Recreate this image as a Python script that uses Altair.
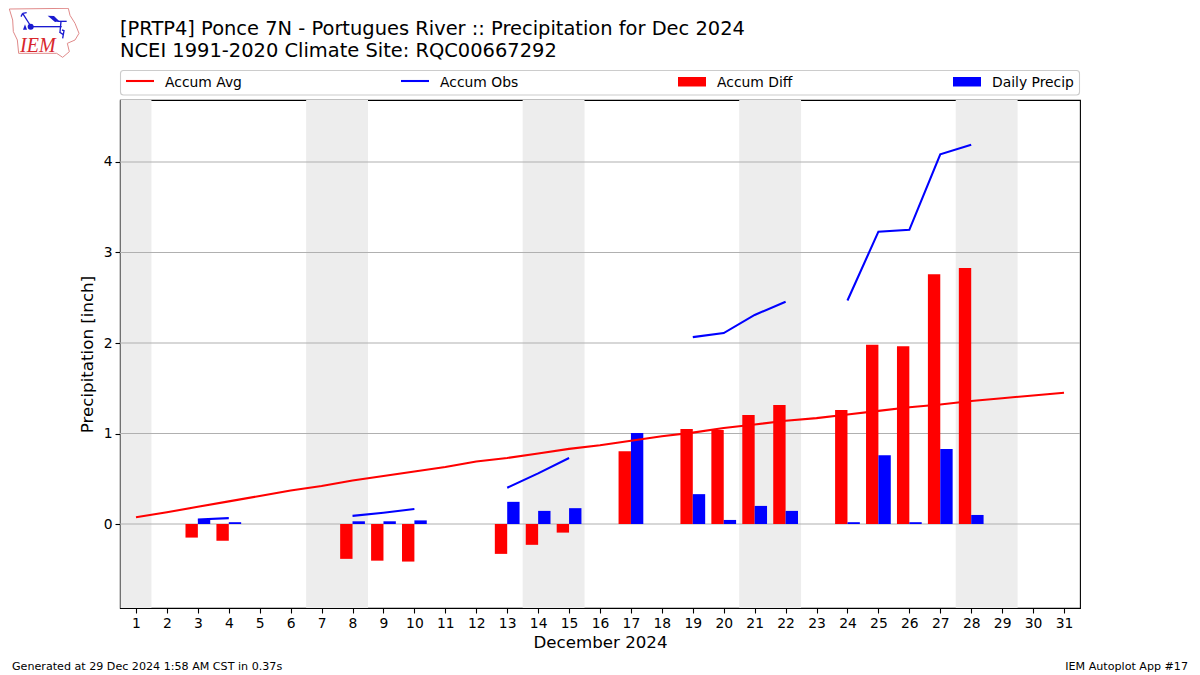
import base64
import altair as alt
import pandas as pd

FONT = "DejaVu Sans"

days = list(range(1, 32))
accum_avg = [0.075, 0.13, 0.19, 0.25, 0.31, 0.37, 0.42, 0.48, 0.53, 0.58, 0.63, 0.69, 0.73, 0.78, 0.83, 0.87,
             0.92, 0.97, 1.01, 1.06, 1.10, 1.14, 1.17, 1.21, 1.25, 1.29, 1.32, 1.36, 1.39, 1.42, 1.45]
accum_obs = [None, None, 0.05, 0.065, None, None, None, 0.09, 0.125, 0.165, None, None, 0.40, 0.56, 0.73, None,
             None, None, 2.065, 2.11, 2.31, 2.455, None, 2.47, 3.23, 3.25, 4.085, 4.19, None, None, None]
bar_days = [3, 4, 8, 9, 10, 13, 14, 15, 17, 19, 20, 21, 22, 24, 25, 26, 27, 28]
accum_diff = [-0.15, -0.185, -0.385, -0.405, -0.415, -0.33, -0.23, -0.095, 0.805, 1.05, 1.04, 1.205, 1.315,
              1.26, 1.98, 1.965, 2.76, 2.83]
daily_precip = [0.05, 0.02, 0.03, 0.03, 0.04, 0.245, 0.145, 0.175, 1.005, 0.33, 0.045, 0.20, 0.145, 0.02,
                0.76, 0.02, 0.83, 0.10]
weekend_start = [0.5, 6.5, 13.5, 20.5, 27.5]
weekend_end = [1.5, 8.5, 15.5, 22.5, 29.5]
y_ticks = [0, 1, 2, 3, 4]

title_lines = ["[PRTP4] Ponce 7N - Portugues River :: Precipitation for Dec 2024",
               "NCEI 1991-2020 Climate Site: RQC00667292"]
footer_left = "Generated at 29 Dec 2024 1:58 AM CST in 0.37s"
footer_right = "IEM Autoplot App #17"

x_scale = alt.Scale(domain=[0.483, 31.517], nice=False, zero=False)
y_scale = alt.Scale(domain=[-0.928, 4.685], nice=False, zero=False)

OX, OY = 120, 100  # page position of the plot area


def px(v):
    return alt.value(v - OX)


def py(v):
    return alt.value(v - OY)


line_df = pd.DataFrame({"day": days, "avg": accum_avg, "obs": accum_obs})
bar_df = pd.DataFrame({"day": bar_days, "diff": accum_diff, "precip": daily_precip})
bar_df["r0"] = bar_df["day"] - 0.4
bar_df["r1"] = bar_df["day"]
bar_df["b0"] = bar_df["day"]
bar_df["b1"] = bar_df["day"] + 0.4
bar_df["zero"] = 0
band_df = pd.DataFrame({"a": weekend_start, "b": weekend_end})
grid_df = pd.DataFrame({"v": y_ticks})

x_axis = alt.Axis(values=days, format="d", title="December 2024", grid=False, labelOverlap=False,
                  tickCount=31, titleFontWeight="normal", titleFontSize=16.67, titleFont=FONT, titlePadding=5)
y_axis = alt.Axis(values=y_ticks, format="d", title="Precipitation [inch]", grid=False,
                  titleFontWeight="normal", titleFontSize=16.67, titleFont=FONT, titlePadding=7)

bands = alt.Chart(band_df).mark_rect(color="#ededed", clip=True).encode(
    x=alt.X("a:Q", scale=x_scale, axis=x_axis), x2="b:Q")
grid = alt.Chart(grid_df).mark_rule(color="#b0b0b0", strokeWidth=1.1).encode(
    y=alt.Y("v:Q", scale=y_scale, axis=y_axis))
red_bars = alt.Chart(bar_df).mark_rect(color="#ff0000").encode(
    x=alt.X("r0:Q", scale=x_scale, axis=x_axis), x2="r1:Q",
    y=alt.Y("zero:Q", scale=y_scale, axis=y_axis), y2="diff:Q")
blue_bars = alt.Chart(bar_df).mark_rect(color="#0000ff").encode(
    x=alt.X("b0:Q", scale=x_scale, axis=x_axis), x2="b1:Q",
    y=alt.Y("zero:Q", scale=y_scale, axis=y_axis), y2="precip:Q")
avg_line = alt.Chart(line_df).mark_line(color="#ff0000", strokeWidth=2.08).encode(
    x=alt.X("day:Q", scale=x_scale, axis=x_axis), y=alt.Y("avg:Q", scale=y_scale, axis=y_axis))
obs_line = alt.Chart(line_df).mark_line(color="#0000ff", strokeWidth=2.08).encode(
    x=alt.X("day:Q", scale=x_scale, axis=x_axis), y=alt.Y("obs:Q", scale=y_scale, axis=y_axis))

layers = [bands, grid, red_bars, blue_bars, avg_line, obs_line]

# title, as two text lines
for line, base in zip(title_lines, [35, 57]):
    layers.append(alt.Chart(pd.DataFrame({"t": [line]})).mark_text(
        font=FONT, fontSize=19.44, align="left", baseline="alphabetic", color="black").encode(
        x=px(120), y=py(base), text="t:N"))

# legend strip above the plot
one = pd.DataFrame({"t": [""]})
layers.append(alt.Chart(one).mark_rect(fill="white", stroke="#cccccc", strokeWidth=1.1, cornerRadius=3).encode(
    x=px(120.5), x2=px(1079.5), y=py(70.5), y2=py(95)))
legend_names = ["Accum Avg", "Accum Obs", "Accum Diff", "Daily Precip"]
legend_kind = ["line", "line", "box", "box"]
legend_color = ["#ff0000", "#0000ff", "#ff0000", "#0000ff"]
legend_left = [126, 401, 678, 953]
for name, kind, col, left in zip(legend_names, legend_kind, legend_color, legend_left):
    d = pd.DataFrame({"t": [name]})
    if kind == "line":
        layers.append(alt.Chart(d).mark_rule(color=col, strokeWidth=2.08).encode(
            x=px(left), x2=px(left + 28), y=py(81)))
    else:
        layers.append(alt.Chart(d).mark_rect(color=col).encode(
            x=px(left), x2=px(left + 28), y=py(77), y2=py(86.5)))
    layers.append(alt.Chart(d).mark_text(font=FONT, fontSize=13.89, align="left", baseline="alphabetic",
                                         color="black").encode(
        x=px(left + 39), y=py(86.5), text="t:N"))

# footer
layers.append(alt.Chart(pd.DataFrame({"t": [footer_left]})).mark_text(
    font=FONT, fontSize=11.11, align="left", baseline="alphabetic", color="black").encode(
    x=px(12), y=py(670), text="t:N"))
layers.append(alt.Chart(pd.DataFrame({"t": [footer_right]})).mark_text(
    font=FONT, fontSize=11.11, align="right", baseline="alphabetic", color="black").encode(
    x=px(1188), y=py(670), text="t:N"))

# logo
logo_svg = """<svg xmlns='http://www.w3.org/2000/svg' width='80' height='60' viewBox='0 0 240 180'>
<path d='M28 27 L205 25 L210 46 L225 70 L237 100 L225 120 L202 130 L208 155 L188 172 L170 160 L56 160 L52 120 L40 95 L38 60 Z'
 fill='none' stroke='#e08a8a' stroke-width='3'/>
<g stroke='#1a1ad0' fill='none' stroke-width='4'>
<path d='M92 80 L185 80'/><path d='M92 78 L68 40 M68 40 L63 50 M68 40 L80 38'/>
<path d='M172 64 L200 64'/><path d='M183 64 L180 96 M178 96 L190 104 M186 90 L192 92 L188 115'/>
</g>
<circle cx='92' cy='80' r='9' fill='#1a1ad0'/>
<path d='M143 47 L162 48 L178 64 L165 66 Z' fill='#1a1ad0'/>
<path d='M69 89 L75 73 L81 89 Z' fill='#1a1ad0'/>
</svg>"""
logo_url = "data:image/svg+xml;base64," + base64.b64encode(logo_svg.encode()).decode()
layers.append(alt.Chart(one).mark_image(url=logo_url, width=80, height=60, align="left", baseline="top").encode(
    x=px(0), y=py(0)))
layers.append(alt.Chart(pd.DataFrame({"t": ["IEM"]})).mark_text(
    font="Liberation Serif", fontStyle="italic", fontSize=20, align="left", baseline="alphabetic",
    color="#d8262c").encode(x=px(20), y=py(52), text="t:N"))

chart = alt.layer(*layers).resolve_scale(x="shared", y="shared").properties(
    width=960, height=508,
    autosize=alt.AutoSizeParams(type="none"),
    padding={"left": 112, "top": 92, "right": 112, "bottom": 66},
).configure_view(stroke="black", strokeWidth=1.1).configure_axis(
    labelFont=FONT, labelFontSize=13.89, labelColor="black", titleColor="black",
    domainColor="black", domainWidth=1.1, tickColor="black", tickWidth=1.1, tickSize=5, labelPadding=3)

chart.save("out.html", embed_options={"renderer": "svg", "actions": False})
